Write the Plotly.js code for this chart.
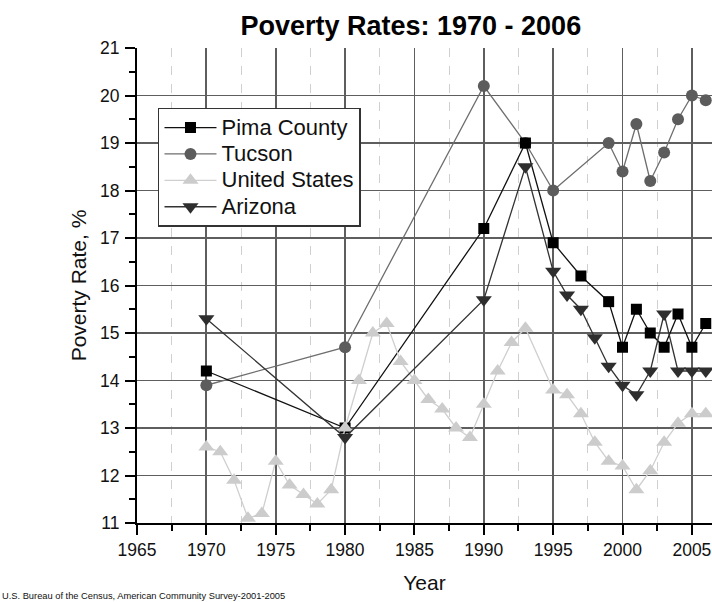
<!DOCTYPE html>
<html>
<head>
<meta charset="utf-8">
<script src="https://cdn.plot.ly/plotly-3.0.1.min.js"></script>
<style>
html, body { margin: 0; padding: 0; background: #fff; overflow: hidden; }
#chart { width: 712px; height: 602px; }
</style>
</head>
<body>
<div id="chart"></div>
<script>
const pimaYears = [1970, 1980, 1990, 1993, 1995, 1997, 1999, 2000, 2001, 2002, 2003, 2004, 2005, 2006];
const pimaRates = [14.2, 13.0, 17.2, 19.0, 16.9, 16.2, 15.66, 14.7, 15.5, 15.0, 14.7, 15.4, 14.7, 15.2];

const tucsonYears = [1970, 1980, 1990, 1993, 1995, 1999, 2000, 2001, 2002, 2003, 2004, 2005, 2006];
const tucsonRates = [13.9, 14.7, 20.2, 19.0, 18.0, 19.0, 18.4, 19.4, 18.2, 18.8, 19.5, 20.0, 19.9];

const usYears = [1970, 1971, 1972, 1973, 1974, 1975, 1976, 1977, 1978, 1979,
                 1980, 1981, 1982, 1983, 1984, 1985, 1986, 1987, 1988, 1989,
                 1990, 1991, 1992, 1993,
                 1995, 1996, 1997, 1998, 1999, 2000, 2001, 2002, 2003, 2004, 2005, 2006];
const usRates = [12.6, 12.5, 11.9, 11.1, 11.2, 12.3, 11.8, 11.6, 11.4, 11.7,
                 13.0, 14.0, 15.0, 15.2, 14.4, 14.0, 13.6, 13.4, 13.0, 12.8,
                 13.5, 14.2, 14.8, 15.1,
                 13.8, 13.7, 13.3, 12.7, 12.3, 12.2, 11.7, 12.1, 12.7, 13.1, 13.3, 13.3];

const azYears = [1970, 1980, 1990, 1993, 1995, 1996, 1997, 1998, 1999, 2000, 2001, 2002, 2003, 2004, 2005, 2006];
const azRates = [15.3, 12.8, 15.7, 18.5, 16.3, 15.8, 15.5, 14.9, 14.3, 13.9, 13.7, 14.2, 15.4, 14.2, 14.2, 14.2];

const titleText = "Poverty Rates: 1970 - 2006";
const xTitle = "Year";
const yTitle = "Poverty Rate, %";
const sourceText = "U.S. Bureau of the Census, American Community Survey-2001-2005";

const FONT = "Liberation Sans, Arial, Helvetica, sans-serif";
const legendName = (s) => '<span style="font-size:22px">' + s + '</span>';

const traces = [
  {
    name: legendName("Tucson"), x: tucsonYears, y: tucsonRates, type: "scatter", mode: "lines+markers",
    line: { color: "#6e6e6e", width: 1.3 },
    marker: { symbol: "circle", size: 12, color: "#5c5c5c" },
    legendrank: 2
  },
  {
    name: legendName("Pima County"), x: pimaYears, y: pimaRates, type: "scatter", mode: "lines+markers",
    line: { color: "#111111", width: 1.3 },
    marker: { symbol: "square", size: 11, color: "#000000" },
    legendrank: 1
  },
  {
    name: legendName("United States"), x: usYears, y: usRates, type: "scatter", mode: "lines+markers",
    line: { color: "#cfcfcf", width: 1.3 },
    marker: { symbol: "triangle-up", size: 14, color: "#cccccc" },
    legendrank: 3
  },
  {
    name: legendName("Arizona"), x: azYears, y: azRates, type: "scatter", mode: "lines+markers",
    line: { color: "#333333", width: 1.3 },
    marker: { symbol: "triangle-down", size: 14, color: "#2e2e2e" },
    legendrank: 4
  }
];

const layout = {
  width: 712,
  height: 602,
  margin: { l: 137, r: 0, t: 48, b: 79, pad: 0 },
  paper_bgcolor: "#ffffff",
  plot_bgcolor: "#ffffff",
  font: { family: FONT, color: "#111111" },
  title: {
    text: titleText,
    x: 0.577, xref: "container", xanchor: "center",
    y: 0.958, yref: "container", yanchor: "middle",
    font: { family: FONT, size: 27, weight: "bold", color: "#000000" }
  },
  xaxis: {
    range: [1965, 2006.45],
    tickmode: "linear", tick0: 1965, dtick: 5,
    showgrid: true, gridcolor: "#5e5e5e", gridwidth: 1.8,
    showline: true, linecolor: "#000000", linewidth: 2,
    ticks: "outside", ticklen: 10, tickwidth: 2, tickcolor: "#000000",
    minor: { dtick: 2.5, tick0: 1965, showgrid: true, gridcolor: "#d0d0d0", griddash: "dash", gridwidth: 1,
             ticks: "outside", ticklen: 6, tickwidth: 2, tickcolor: "#000000" },
    zeroline: false,
    tickfont: { family: FONT, size: 17.5, color: "#111111" },
    title: { text: xTitle, standoff: 16, font: { family: FONT, size: 21, color: "#111111" } },
    fixedrange: true
  },
  yaxis: {
    range: [11, 21],
    tickmode: "linear", tick0: 11, dtick: 1,
    showgrid: true, gridcolor: "#5e5e5e", gridwidth: 1.8,
    showline: true, linecolor: "#000000", linewidth: 2,
    ticks: "outside", ticklen: 10, tickwidth: 2, tickcolor: "#000000",
    minor: { dtick: 0.5, tick0: 11, showgrid: false, ticks: "outside", ticklen: 6, tickwidth: 2, tickcolor: "#000000" },
    zeroline: false,
    tickfont: { family: FONT, size: 17.5, color: "#111111" },
    ticklabelstandoff: 2,
    title: { text: yTitle, standoff: 8, font: { family: FONT, size: 21, color: "#111111" } },
    fixedrange: true
  },
  showlegend: true,
  legend: {
    x: 0.0365, y: 0.874, xanchor: "left", yanchor: "top",
    bgcolor: "#ffffff", bordercolor: "#333333", borderwidth: 1.5,
    font: { family: FONT, size: 18, color: "#111111" },
    itemwidth: 52,
    tracegroupgap: 0
  },
  annotations: [
    {
      text: sourceText, xref: "paper", yref: "paper",
      x: -137 / 575, xanchor: "left", y: -73 / 475, yanchor: "middle",
      showarrow: false, font: { family: FONT, size: 9.3, color: "#111111" }
    }
  ]
};

Plotly.newPlot("chart", traces, layout, { displayModeBar: false, staticPlot: true });
</script>
</body>
</html>
